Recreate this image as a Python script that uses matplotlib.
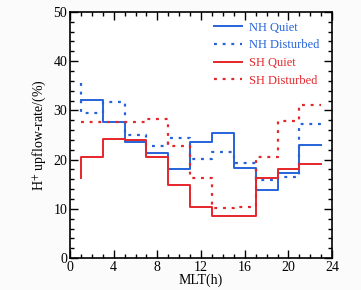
import matplotlib
matplotlib.use("Agg")
import matplotlib.pyplot as plt
from matplotlib.ticker import MultipleLocator

mlt = [1, 3, 5, 7, 9, 11, 13, 15, 17, 19, 21, 23]
nh_quiet = [32.2, 32.2, 27.7, 23.5, 21.3, 18.0, 23.6, 25.5, 18.2, 13.9, 17.2, 22.9]
nh_disturbed = [35.5, 29.4, 31.7, 25.1, 22.8, 24.4, 20.1, 21.6, 19.3, 15.8, 16.4, 27.3]
sh_quiet = [16.3, 20.6, 24.2, 24.0, 20.6, 14.8, 10.4, 8.6, 8.6, 16.3, 18.1, 19.1]
sh_disturbed = [27.7, 27.7, 27.7, 27.7, 28.3, 22.8, 16.2, 10.2, 10.3, 20.6, 27.9, 31.1]

plt.rcParams['font.family'] = ['Liberation Serif', 'DejaVu Serif']
plt.rcParams['mathtext.fontset'] = 'stix'

blue = '#2563d9'
red = '#e5262b'
dot = (0, (1.3, 2.6))

fig = plt.figure(figsize=(3.61, 2.90), dpi=100)
fig.patch.set_facecolor('#fbfbfb')
ax = fig.add_axes([0.194, 0.110, 0.726, 0.849])
ax.set_facecolor('white')

ax.plot(mlt, nh_quiet, drawstyle='steps-pre', color=blue, lw=1.4, label='NH Quiet')
ax.plot(mlt, nh_disturbed, drawstyle='steps-pre', color=blue, lw=1.6, ls=dot, label='NH Disturbed')
ax.plot(mlt, sh_quiet, drawstyle='steps-pre', color=red, lw=1.4, label='SH Quiet')
ax.plot(mlt, sh_disturbed, drawstyle='steps-pre', color=red, lw=1.6, ls=dot, label='SH Disturbed')

ax.set_xlim(0, 24)
ax.set_ylim(0, 50)
ax.xaxis.set_major_locator(MultipleLocator(4))
ax.xaxis.set_minor_locator(MultipleLocator(1))
ax.yaxis.set_major_locator(MultipleLocator(10))
ax.yaxis.set_minor_locator(MultipleLocator(2))
ax.tick_params(which='both', direction='in', top=True, right=True, labelsize=10, width=1.0)
ax.tick_params(which='major', length=6)
ax.tick_params(which='minor', length=3)
ax.tick_params(axis='x', pad=2)
ax.tick_params(axis='y', pad=2)
for s in ax.spines.values():
    s.set_linewidth(1.2)

ax.set_xlabel('MLT(h)', fontsize=10, labelpad=0)
ax.set_ylabel('H$^{+}$ upflow-rate/(%)', fontsize=10, labelpad=4)

leg = ax.legend(loc='upper left', bbox_to_anchor=(0.548, 0.96), frameon=False, fontsize=9,
                borderpad=0, borderaxespad=0,
                handlelength=2.3, handletextpad=0.5, labelspacing=0.45)
for txt, line in zip(leg.get_texts(), leg.get_lines()):
    txt.set_color(line.get_color())

fig.savefig('out.png', dpi=100, facecolor=fig.get_facecolor())
